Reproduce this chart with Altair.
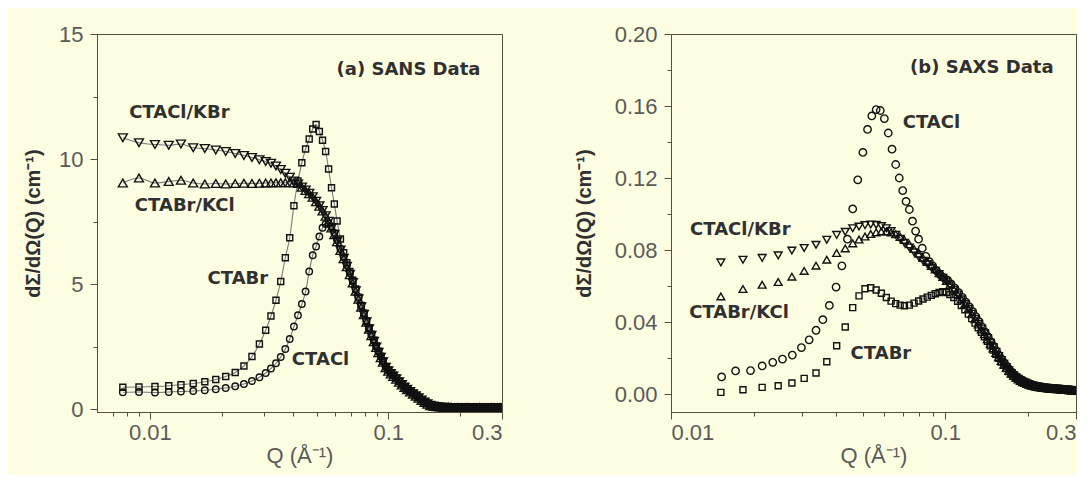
import altair as alt
import pandas as pd

# ---------------- (a) SANS data ----------------
Q_SANS = [
    0.0077, 0.0090, 0.0105, 0.0120, 0.0135, 0.0152, 0.0170, 0.0189, 0.0208, 0.0228,
    0.0248, 0.0268, 0.0288, 0.0306, 0.0322, 0.0338, 0.0354, 0.0370, 0.0386, 0.0402,
    0.0418, 0.0434, 0.0450, 0.0466, 0.0482, 0.0498, 0.0514, 0.0530, 0.0546, 0.0562,
    0.0578, 0.0594, 0.0610, 0.0630, 0.0650, 0.0670, 0.0690, 0.0710, 0.0730, 0.0750,
    0.0770, 0.0790, 0.0810, 0.0830, 0.0850, 0.0870, 0.0890, 0.0910, 0.0930, 0.0950,
    0.0975, 0.1000, 0.1025, 0.1050, 0.1080, 0.1110, 0.1140, 0.1170, 0.1200, 0.1235,
    0.1270, 0.1305, 0.1340, 0.1380, 0.1420, 0.1460, 0.1500, 0.1545, 0.1590, 0.1640,
    0.1690, 0.1740, 0.1790, 0.1845, 0.1900, 0.1960, 0.2020, 0.2080, 0.2140, 0.2200,
    0.2270, 0.2340, 0.2410, 0.2480, 0.2550, 0.2620, 0.2700, 0.2780, 0.2860, 0.2940,
]
SANS_CTACL_KBR = [
    10.85, 10.65, 10.58, 10.55, 10.60, 10.45, 10.42, 10.36, 10.30, 10.22,
    10.14, 10.06, 9.97, 9.90, 9.83, 9.72, 9.58, 9.43, 9.27, 9.12,
    9.00, 8.88, 8.76, 8.63, 8.49, 8.31, 8.13, 7.94, 7.73, 7.51,
    7.26, 6.99, 6.71, 6.36, 6.03, 5.71, 5.39, 5.06, 4.73, 4.41,
    4.09, 3.79, 3.49, 3.21, 2.95, 2.71, 2.48, 2.27, 2.07, 1.89,
    1.67, 1.53, 1.42, 1.32, 1.21, 1.09, 0.98, 0.88, 0.79, 0.70,
    0.61, 0.53, 0.45, 0.36, 0.28, 0.21, 0.15, 0.12, 0.10, 0.08,
    0.07, 0.07, 0.06, 0.06, 0.06, 0.05, 0.06, 0.05, 0.06, 0.05,
    0.05, 0.06, 0.05, 0.05, 0.06, 0.05, 0.05, 0.06, 0.05, 0.05,
]
SANS_CTABR_KCL = [
    9.04, 9.24, 9.04, 9.10, 9.15, 9.04, 9.00, 9.02, 9.00, 9.02,
    9.03, 9.02, 9.03, 9.04, 9.04, 9.05, 9.05, 9.05, 9.05, 9.05,
    9.02, 8.87, 8.74, 8.61, 8.47, 8.29, 8.11, 7.92, 7.71, 7.49,
    7.24, 6.97, 6.69, 6.34, 6.01, 5.69, 5.37, 5.04, 4.71, 4.39,
    4.07, 3.77, 3.47, 3.19, 2.93, 2.69, 2.46, 2.25, 2.05, 1.87,
    1.65, 1.51, 1.40, 1.30, 1.19, 1.07, 0.96, 0.86, 0.77, 0.68,
    0.59, 0.51, 0.43, 0.34, 0.26, 0.19, 0.13, 0.11, 0.09, 0.08,
    0.07, 0.06, 0.07, 0.06, 0.05, 0.06, 0.05, 0.05, 0.06, 0.05,
    0.05, 0.05, 0.06, 0.05, 0.05, 0.05, 0.06, 0.05, 0.05, 0.06,
]
SANS_CTABR = [
    0.87, 0.88, 0.90, 0.93, 0.97, 1.02, 1.09, 1.18, 1.30, 1.46,
    1.72, 2.10, 2.60, 3.15, 3.72, 4.35, 5.10, 6.05, 6.85, 8.13,
    9.12, 9.85, 10.40, 10.80, 11.20, 11.38, 11.10, 10.75, 10.30, 9.60,
    8.85, 8.20, 7.52, 6.80, 6.25, 5.85, 5.50, 5.15, 4.80, 4.47,
    4.14, 3.83, 3.53, 3.25, 2.99, 2.75, 2.52, 2.31, 2.11, 1.92,
    1.70, 1.56, 1.45, 1.35, 1.23, 1.11, 1.00, 0.89, 0.80, 0.71,
    0.62, 0.54, 0.46, 0.37, 0.29, 0.22, 0.16, 0.12, 0.10, 0.09,
    0.08, 0.07, 0.07, 0.06, 0.06, 0.06, 0.05, 0.06, 0.05, 0.05,
    0.06, 0.05, 0.05, 0.06, 0.05, 0.05, 0.06, 0.05, 0.05, 0.05,
]
SANS_CTACL = [
    0.67, 0.68, 0.66, 0.68, 0.70, 0.72, 0.75, 0.79, 0.84, 0.91,
    1.00, 1.12, 1.27, 1.44, 1.62, 1.83, 2.08, 2.40, 2.80, 3.30,
    3.75, 4.20, 4.70, 5.50, 6.15, 6.50, 6.90, 7.25, 7.40, 7.42,
    7.30, 7.05, 6.75, 6.40, 6.07, 5.75, 5.43, 5.10, 4.77, 4.45,
    4.12, 3.81, 3.51, 3.23, 2.97, 2.73, 2.50, 2.29, 2.09, 1.90,
    1.68, 1.54, 1.43, 1.33, 1.22, 1.10, 0.99, 0.88, 0.79, 0.70,
    0.61, 0.53, 0.45, 0.36, 0.28, 0.21, 0.15, 0.12, 0.10, 0.09,
    0.08, 0.07, 0.06, 0.07, 0.06, 0.05, 0.06, 0.05, 0.05, 0.06,
    0.05, 0.06, 0.05, 0.05, 0.05, 0.06, 0.05, 0.05, 0.06, 0.05,
]
SANS_LABELS = ["(a) SANS Data", "CTACl/KBr", "CTABr/KCl", "CTABr", "CTACl"]
SANS_LABEL_Q = [0.1216, 0.0133, 0.0140, 0.0234, 0.0520]
SANS_LABEL_I = [13.55, 11.86, 8.12, 5.19, 1.97]

# ---------------- (b) SAXS data ----------------
Q_SAXS = [
    0.0152, 0.0183, 0.0215, 0.0246, 0.0276, 0.0306, 0.0338, 0.0370, 0.0402, 0.0432,
    0.0460, 0.0485, 0.0510, 0.0535, 0.0560, 0.0585, 0.0610, 0.0635, 0.0660, 0.0685,
    0.0710, 0.0740, 0.0770, 0.0800, 0.0830, 0.0860, 0.0890, 0.0920, 0.0950, 0.0980,
    0.1010, 0.1040, 0.1075, 0.1110, 0.1145, 0.1180, 0.1215, 0.1250, 0.1285, 0.1320,
    0.1355, 0.1390, 0.1425, 0.1460, 0.1495, 0.1530, 0.1565, 0.1600, 0.1635, 0.1670,
    0.1705, 0.1740, 0.1775, 0.1810, 0.1845, 0.1880, 0.1915, 0.1950, 0.1985, 0.2020,
    0.2055, 0.2090, 0.2125, 0.2160, 0.2195, 0.2230, 0.2265, 0.2300, 0.2335, 0.2370,
    0.2405, 0.2440, 0.2475, 0.2510, 0.2545, 0.2580, 0.2615, 0.2650, 0.2685, 0.2720,
    0.2755, 0.2790, 0.2825, 0.2860, 0.2895, 0.2930, 0.2965,
]
SAXS_CTACL_KBR = [
    0.0731, 0.0746, 0.0756, 0.0770, 0.0797, 0.0811, 0.0829, 0.0857, 0.0884, 0.0901,
    0.0921, 0.0930, 0.0938, 0.0942, 0.0940, 0.0933, 0.0921, 0.0905, 0.0885, 0.0862,
    0.0840, 0.0814, 0.0787, 0.0762, 0.0740, 0.0722, 0.0702, 0.0685, 0.0666, 0.0645,
    0.0625, 0.0604, 0.0578, 0.0553, 0.0526, 0.0500, 0.0473, 0.0446, 0.0418, 0.0390,
    0.0364, 0.0337, 0.0311, 0.0285, 0.0259, 0.0234, 0.0211, 0.0189, 0.0168, 0.0149,
    0.0132, 0.0117, 0.0104, 0.0093, 0.0084, 0.0076, 0.0069, 0.0063, 0.0058, 0.0054,
    0.0050, 0.0047, 0.0044, 0.0042, 0.0040, 0.0038, 0.0036, 0.0035, 0.0034, 0.0033,
    0.0032, 0.0031, 0.0030, 0.0029, 0.0029, 0.0028, 0.0027, 0.0027, 0.0026, 0.0025,
    0.0024, 0.0023, 0.0022, 0.0021, 0.0020, 0.0019, 0.0018,
]
SAXS_CTABR_KCL = [
    0.0542, 0.0583, 0.0607, 0.0622, 0.0652, 0.0684, 0.0713, 0.0746, 0.0783, 0.0809,
    0.0837, 0.0858, 0.0875, 0.0889, 0.0898, 0.0903, 0.0903, 0.0898, 0.0888, 0.0873,
    0.0856, 0.0832, 0.0806, 0.0780, 0.0756, 0.0734, 0.0712, 0.0692, 0.0671, 0.0650,
    0.0628, 0.0606, 0.0580, 0.0554, 0.0527, 0.0500, 0.0472, 0.0444, 0.0415, 0.0386,
    0.0359, 0.0332, 0.0305, 0.0279, 0.0253, 0.0228, 0.0205, 0.0183, 0.0163, 0.0145,
    0.0128, 0.0113, 0.0101, 0.0090, 0.0081, 0.0073, 0.0066, 0.0061, 0.0056, 0.0052,
    0.0048, 0.0045, 0.0042, 0.0040, 0.0038, 0.0036, 0.0034, 0.0033, 0.0032, 0.0031,
    0.0030, 0.0029, 0.0028, 0.0028, 0.0027, 0.0026, 0.0026, 0.0025, 0.0024, 0.0024,
    0.0023, 0.0022, 0.0021, 0.0020, 0.0019, 0.0018, 0.0017,
]
SAXS_CTABR = [
    0.0009, 0.0024, 0.0037, 0.0046, 0.0061, 0.0087, 0.0117, 0.0179, 0.0268, 0.0372,
    0.0480, 0.0545, 0.0585, 0.0590, 0.0578, 0.0560, 0.0536, 0.0516, 0.0502, 0.0494,
    0.0490, 0.0494, 0.0505, 0.0517, 0.0528, 0.0538, 0.0548, 0.0557, 0.0564, 0.0568,
    0.0564, 0.0553, 0.0536, 0.0515, 0.0492, 0.0468, 0.0444, 0.0419, 0.0394, 0.0368,
    0.0343, 0.0318, 0.0293, 0.0268, 0.0244, 0.0221, 0.0199, 0.0178, 0.0159, 0.0141,
    0.0125, 0.0111, 0.0099, 0.0089, 0.0080, 0.0072, 0.0066, 0.0060, 0.0055, 0.0051,
    0.0047, 0.0044, 0.0041, 0.0039, 0.0037, 0.0035, 0.0034, 0.0032, 0.0031, 0.0030,
    0.0029, 0.0028, 0.0028, 0.0027, 0.0026, 0.0026, 0.0025, 0.0024, 0.0024, 0.0023,
    0.0022, 0.0021, 0.0021, 0.0020, 0.0019, 0.0018, 0.0017,
]
Q_SAXS_CTACL = [
    0.0153, 0.0172, 0.0195, 0.0215, 0.0235, 0.0255, 0.0277, 0.0299, 0.0319, 0.0338,
    0.0358, 0.0378, 0.0400, 0.0420, 0.0440, 0.0460, 0.0480, 0.0501, 0.0521, 0.0540,
    0.0560, 0.0580, 0.0600, 0.0620, 0.0640, 0.0660, 0.0680, 0.0700, 0.0720, 0.0740,
    0.0760, 0.0780, 0.0800, 0.0825, 0.0850, 0.0875, 0.0900, 0.0930, 0.0960, 0.0990,
    0.1020, 0.1050, 0.1085, 0.1120, 0.1155, 0.1190, 0.1225, 0.1260, 0.1295, 0.1330,
    0.1365, 0.1400, 0.1435, 0.1470, 0.1505, 0.1540, 0.1575, 0.1610, 0.1645, 0.1680,
    0.1715, 0.1750, 0.1785, 0.1820, 0.1855, 0.1890, 0.1925, 0.1960, 0.2000, 0.2040,
    0.2080, 0.2120, 0.2160, 0.2200, 0.2240, 0.2280, 0.2320, 0.2360, 0.2400, 0.2440,
    0.2480, 0.2520, 0.2560, 0.2600, 0.2640, 0.2680, 0.2720, 0.2760, 0.2800, 0.2840,
    0.2880, 0.2920, 0.2960,
]
SAXS_CTACL = [
    0.0095, 0.0128, 0.0130, 0.0156, 0.0176, 0.0194, 0.0216, 0.0258, 0.0301, 0.0354,
    0.0413, 0.0492, 0.0594, 0.0712, 0.0860, 0.1028, 0.1190, 0.1342, 0.1470, 0.1545,
    0.1580, 0.1575, 0.1530, 0.1450, 0.1360, 0.1275, 0.1200, 0.1130, 0.1070, 0.1025,
    0.0960, 0.0905, 0.0860, 0.0810, 0.0765, 0.0735, 0.0712, 0.0685, 0.0662, 0.0645,
    0.0632, 0.0612, 0.0588, 0.0563, 0.0537, 0.0510, 0.0484, 0.0457, 0.0430, 0.0402,
    0.0372, 0.0344, 0.0317, 0.0290, 0.0264, 0.0238, 0.0214, 0.0192, 0.0172, 0.0153,
    0.0136, 0.0121, 0.0108, 0.0097, 0.0087, 0.0079, 0.0072, 0.0066, 0.0060, 0.0055,
    0.0051, 0.0047, 0.0044, 0.0041, 0.0039, 0.0037, 0.0035, 0.0034, 0.0033, 0.0032,
    0.0031, 0.0030, 0.0029, 0.0028, 0.0028, 0.0027, 0.0026, 0.0025, 0.0024, 0.0024,
    0.0023, 0.0022, 0.0021,
]
SAXS_LABELS = ["(b) SAXS Data", "CTACl", "CTACl/KBr", "CTABr/KCl", "CTABr"]
SAXS_LABEL_Q = [0.136, 0.0891, 0.0179, 0.0177, 0.0583]
SAXS_LABEL_I = [0.1813, 0.1507, 0.0913, 0.0452, 0.0224]

# ---------------- styling ----------------
BG = "#fdfde1"
AXIS_COLOR = "#505040"
TICK_FONT = "Liberation Sans"
LABEL_FONT = "DejaVu Sans"
MARK_COLOR = "#111111"
Y_TITLE = "dΣ/dΩ(Q) (cm⁻¹)"
X_TITLE = "Q (Å⁻¹)"


def frame(q, i, name):
    assert len(q) == len(i), name
    return pd.DataFrame({"Q": q, "I": i, "series": name})


def make_axis(major, minor, fmt, is_x, title_pad):
    test = " || ".join(f"abs(datum.value - ({v})) < 1e-9" for v in major)
    kw = dict(
        values=sorted(major + minor),
        format=fmt,
        labelExpr=f"({test}) ? datum.label : ''",
        tickSize={"condition": {"test": test, "value": 7}, "value": 4},
        grid=False,
    )
    if is_x:
        kw.update(title=X_TITLE, titleFontWeight="normal", titleFontSize=22,
                  titleColor="#5a5a5a", titlePadding=title_pad, labelPadding=3)
    else:
        kw.update(title=Y_TITLE, titleFontWeight="bold", titleFontSize=20,
                  titleColor="#303030", titlePadding=title_pad, labelPadding=7)
    return alt.Axis(**kw)


def panel(point_specs, line_frames, labels, xdom, xmaj, xmin, ydom, ymaj, ymin,
          yfmt, ytitle_pad):
    X = alt.X("Q:Q", scale=alt.Scale(type="log", domain=xdom, nice=False),
              axis=make_axis(xmaj, xmin, "~g", True, 2))
    Y = alt.Y("I:Q", scale=alt.Scale(domain=ydom, nice=False, zero=False),
              axis=make_axis(ymaj, ymin, yfmt, False, ytitle_pad))
    layers = []
    if line_frames:
        ldf = pd.concat(line_frames, ignore_index=True)
        layers.append(
            alt.Chart(ldf).mark_line(color="#7a7a7a", strokeWidth=1.1,
                                     interpolate="monotone", clip=True)
            .encode(x=X, y=Y, detail="series:N")
        )
    for df, shape, size in point_specs:
        layers.append(
            alt.Chart(df).mark_point(shape=shape, filled=False, size=size,
                                     strokeWidth=1.4, color=MARK_COLOR,
                                     opacity=1, clip=True)
            .encode(x=X, y=Y)
        )
    layers.append(
        alt.Chart(labels).mark_text(font=LABEL_FONT, fontWeight="bold",
                                    fontSize=18, color="#303030",
                                    align="center", baseline="middle")
        .encode(x=X, y=Y, text="label:N")
    )
    return alt.layer(*layers).properties(width=405, height=378)


# ---- left panel ----
a_kbr = frame(Q_SANS, SANS_CTACL_KBR, "CTACl/KBr")
a_kcl = frame(Q_SANS, SANS_CTABR_KCL, "CTABr/KCl")
a_br = frame(Q_SANS, SANS_CTABR, "CTABr")
a_cl = frame(Q_SANS, SANS_CTACL, "CTACl")
a_lab = pd.DataFrame({"Q": SANS_LABEL_Q, "I": SANS_LABEL_I, "label": SANS_LABELS})

left = panel(
    [(a_kbr, "triangle-down", 80), (a_kcl, "triangle-up", 80),
     (a_br, "square", 36), (a_cl, "circle", 42)],
    [a_kbr, a_kcl, a_br, a_cl],
    a_lab,
    [0.006, 0.3], [0.01, 0.1, 0.3],
    [0.007, 0.008, 0.009, 0.02, 0.03, 0.04, 0.05, 0.06, 0.07, 0.08, 0.09, 0.2],
    [-0.12, 15], [0, 5, 10, 15], [2.5, 7.5, 12.5], "~g", 15,
)

# ---- right panel ----
b_kbr = frame(Q_SAXS, SAXS_CTACL_KBR, "CTACl/KBr")
b_kcl = frame(Q_SAXS, SAXS_CTABR_KCL, "CTABr/KCl")
b_br = frame(Q_SAXS, SAXS_CTABR, "CTABr")
b_cl = frame(Q_SAXS_CTACL, SAXS_CTACL, "CTACl")
b_lab = pd.DataFrame({"Q": SAXS_LABEL_Q, "I": SAXS_LABEL_I, "label": SAXS_LABELS})

right = panel(
    [(b_kbr, "triangle-down", 60), (b_kcl, "triangle-up", 60),
     (b_br, "square", 36), (b_cl, "circle", 55)],
    [],
    b_lab,
    [0.01, 0.3], [0.01, 0.1, 0.3],
    [0.02, 0.03, 0.04, 0.05, 0.06, 0.07, 0.08, 0.09, 0.2],
    [-0.01, 0.2], [0, 0.04, 0.08, 0.12, 0.16, 0.2],
    [0.02, 0.06, 0.10, 0.14, 0.18], ".2f", 20,
)

chart = (
    alt.hconcat(left, right, spacing=169, bounds="flush")
    .properties(padding={"left": 15, "top": 14, "right": 0, "bottom": 8})
    .configure(background=BG)
    .configure_view(stroke=AXIS_COLOR, strokeWidth=1)
    .configure_axis(
        domainColor=AXIS_COLOR, tickColor=AXIS_COLOR, domainWidth=1, tickWidth=1,
        labelFont=TICK_FONT, labelFontSize=22, labelColor="#5a5a5a",
        titleFont=TICK_FONT,
    )
)

chart.save("out.html", embed_options={"renderer": "svg", "actions": False})
